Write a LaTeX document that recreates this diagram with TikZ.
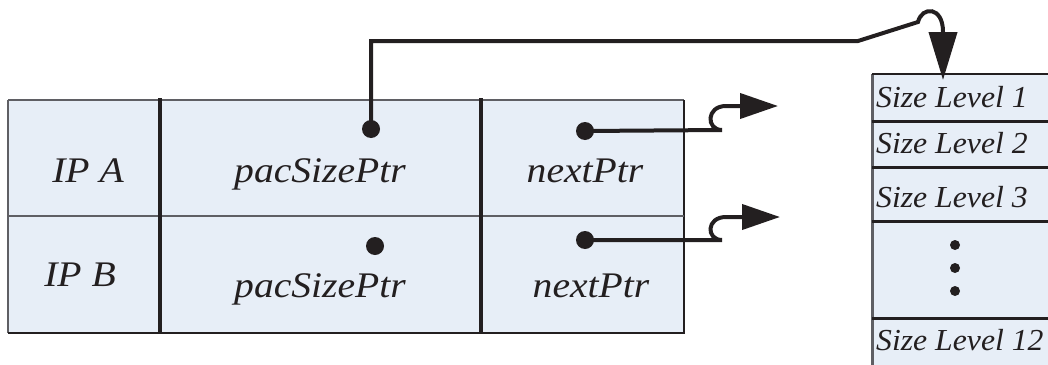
\documentclass[tikz,border=0pt]{standalone}
\usepackage{fontspec}
\setmainfont{Liberation Serif}
\newfontfamily\cellfont{Liberation Serif Italic}[FakeStretch=1.1]
\newfontfamily\lvlfont{Liberation Serif Italic}[FakeStretch=1.04]
\usetikzlibrary{arrows.meta}
\definecolor{cellfill}{RGB}{231,238,247}
\definecolor{ink}{RGB}{35,31,32}
\definecolor{edge}{RGB}{95,95,100}
\begin{document}
\begin{tikzpicture}[x=1pt,y=-1pt,
  ptr/.style={circle,fill=ink,inner sep=0pt,minimum size=18pt},
  smalldot/.style={circle,fill=ink,inner sep=0pt,minimum size=10pt},
  conn/.style={draw=ink,line width=4pt},
  divider/.style={draw=ink,line width=3.5pt},
  lbl/.style={anchor=base,inner sep=0pt,text=ink,font=\cellfont\fontsize{36}{36}\selectfont},
  lvl/.style={anchor=base west,inner sep=0pt,text=ink,font=\lvlfont\fontsize{30.5}{30.5}\selectfont}]
\useasboundingbox (0,0) rectangle (1048,364);
% table
\fill[cellfill] (8,100) rectangle (684,333);
\draw[edge,line width=1.2pt] (8,100) -- (684,100);
\draw[edge,line width=2.5pt] (8,100) -- (8,333);
\draw[ink,line width=2.5pt] (8,333) -- (684,333) -- (684,100);
\draw[edge,line width=1.8pt] (8,216) -- (684,216);
\draw[divider] (160,98) -- (160,334);
\draw[divider] (481,98) -- (481,334);
% labels
\node[lbl] (ipa) at (88,182) {IP A};
\node[lbl] (ipb) at (80,286) {IP B};
\node[lbl] (psa) at (320,182) {pacSizePtr};
\node[lbl] (psb) at (320,297) {pacSizePtr};
\node[lbl] (npa) at (585,182) {nextPtr};
\node[lbl] (npb) at (591,297) {nextPtr};
% pointer dots
\node[ptr] (pA) at (371,129) {};
\node[ptr] (pB) at (375,246) {};
\node[ptr] (nA) at (585,131) {};
\node[ptr] (nB) at (585,240) {};
% right column
\fill[cellfill] (872,74) rectangle (1060,370);
\draw[edge,line width=3pt] (872,74) -- (872,370);
\draw[ink,line width=1.8pt] (872,74) -- (1060,74);
\foreach \yy in {121,167,221,318} \draw[ink,line width=3pt] (872,\yy) -- (1060,\yy);
\node[lvl] (l1) at (876,107) {Size Level 1};
\node[lvl] (l2) at (876,153) {Size Level 2};
\node[lvl] (l3) at (876,207) {Size Level 3};
\node[lvl] (l12) at (876,350) {Size Level 12};
\node[smalldot] (d1) at (955,245) {};
\node[smalldot] (d2) at (955,268) {};
\node[smalldot] (d3) at (955,291) {};
% connectors
\coordinate (topTip) at (943,80);
\coordinate (tipA) at (778,106);
\coordinate (tipB) at (780,217);
\draw[conn,-{Triangle[length=48pt,width=28pt]}] (pA.center) |- (858,41) -- (918,22)
   .. controls (922,6) and (943,6) .. (943,32) -- (topTip);
\draw[conn,-{Triangle[length=38pt,width=25pt]}] (nA.center) -- (722,130)
   .. controls (706,130) and (706,106) .. (726,106) -- (tipA);
\draw[conn,-{Triangle[length=38pt,width=25pt]}] (nB.center) -- (722,240)
   .. controls (706,240) and (706,217) .. (726,217) -- (tipB);
\end{tikzpicture}
\end{document}
